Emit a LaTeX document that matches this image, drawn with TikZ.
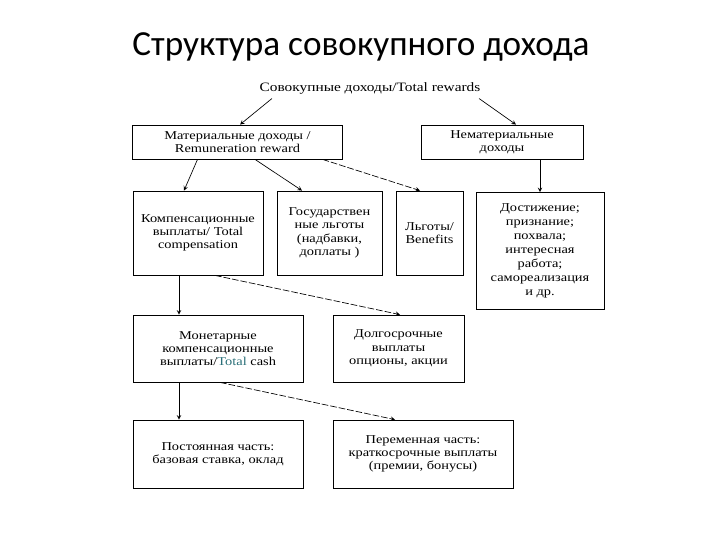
\documentclass[tikz,border=0pt]{standalone}
\usepackage{fontspec}
\setmainfont{Liberation Serif}[FakeStretch=1.2]
\newfontfamily\titlefont{Carlito}
\usetikzlibrary{positioning,calc}

\tikzset{
    box/.style={draw, line width=0.6pt, align=center, inner sep=2pt, font=\fontsize{9}{10}\selectfont},
    link/.style={->, line width=0.5pt},
    dlink/.style={->, line width=0.5pt, dash pattern=on 5pt off 1.5pt},
}

\begin{document}
\begin{tikzpicture}[x=0.75pt, y=-0.75pt, >=stealth]
    \useasboundingbox (0,0) rectangle (720,540);

    % title:
    \node[font=\titlefont\fontsize{26.4}{30}\selectfont] (title) at (361,47) {Структура совокупного дохода};

    % top:
    \node[font=\fontsize{9.6}{11}\selectfont] (total) at (370,88) {Совокупные доходы/Total rewards};

    % boxes:
    \node[box, minimum width=157pt, minimum height=25.5pt] (mat) at (237.5,142) {Материальные доходы /\\Remuneration reward};
    \node[box, minimum width=121.5pt, minimum height=25.5pt] (nemat) at (502,142) {Нематериальные\\доходы};

    \node[box, minimum width=97.5pt, minimum height=63pt] (komp) at (198,233) {Компенсационные\\выплаты/ Total\\compensation};
    \node[box, minimum width=78.75pt, minimum height=63pt] (gos) at (329.5,233) {Государствен\\ные льготы\\(надбавки,\\доплаты )};
    \node[box, minimum width=50.25pt, minimum height=63pt] (lg) at (429.5,233) {Льготы/\\Benefits};
    \node[box, minimum width=96pt, minimum height=87.75pt, font=\fontsize{9}{10.5}\selectfont] (dost) at (540,251) {Достижение;\\признание;\\похвала;\\интересная\\работа;\\самореализация\\и др.};

    \node[box, minimum width=127.5pt, minimum height=50.25pt] (monet) at (218,348.5) {Монетарные\\компенсационные\\выплаты/{\color[HTML]{2A6F78}Total} cash};
    \node[box, minimum width=98.25pt, minimum height=50.25pt] (dolg) at (398.5,348.5) {Долгосрочные\\выплаты\\опционы, акции};

    \node[box, minimum width=127.5pt, minimum height=51pt] (post) at (218,454) {Постоянная часть:\\базовая ставка, оклад};
    \node[box, minimum width=135pt, minimum height=51pt] (perem) at (423,454) {Переменная часть:\\краткосрочные выплаты\\(премии, бонусы)};

    % arrows:
    \draw[link] ($(total.south west)+(17,0)$) -- ($(mat.north)+(2.5,0)$);
    \draw[link] ($(total.south east)+(-6,0)$) -- ($(nemat.north)+(14,0)$);

    \draw[link] ($(mat.south)+(-40,0)$) -- ($(komp.north)+(-14,0)$);
    \draw[link] ($(mat.south)+(17.5,0)$) -- ($(gos.north)+(-27.5,0)$);
    \draw[dlink] ($(mat.south east)+(-20,0)$) -- ($(lg.north)+(-9.5,0)$);
    \draw[link] ($(nemat.south)+(38,0)$) -- (dost.north);

    \draw[link] ($(komp.south)+(-19,0)$) -- ($(monet.north)+(-39,0)$);
    \draw[dlink] ($(komp.south)+(17,0)$) -- ($(dolg.north)+(1.5,0)$);

    \draw[link] ($(monet.south)+(-39,0)$) -- ($(post.north)+(-39,0)$);
    \draw[dlink] ($(monet.south)+(2,0)$) -- ($(perem.north)+(-28,0)$);
\end{tikzpicture}
\end{document}
